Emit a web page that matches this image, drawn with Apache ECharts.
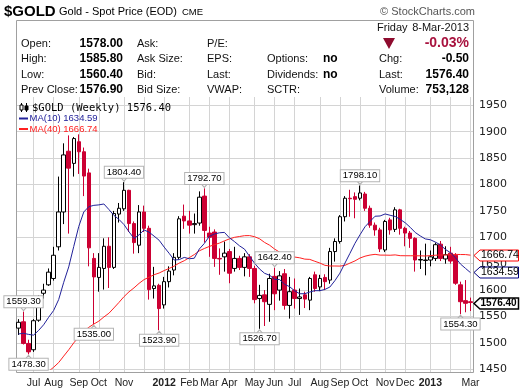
<!DOCTYPE html>
<html><head><meta charset="utf-8">
<script src="https://cdn.jsdelivr.net/npm/echarts@6/dist/echarts.min.js"></script>
<style>html,body{margin:0;padding:0;background:#fff}#c{width:520px;height:391px}</style>
</head><body><div id="c"></div>
<script>
// ---- weekly OHLC of $GOLD, weeks ending Fri 2011-06-17 .. 2013-03-08 ----
const opens = [1528,1540,1499,1487,1543,1594,1610,1622,1682,1748, 1863,1840,1881,1862,1822,1660,1624,1641,1683,1643,
  1744,1754,1789,1726,1685,1748,1717,1603,1609,1572, 1616,1638,1662,1740,1731,1724,1727,1778,1708,1710,
  1660,1663,1673,1641,1660,1643,1663,1641,1584,1591, 1573,1626,1600,1631,1571,1600,1584,1591,1581,1629,
  1606,1624,1619,1673,1692,1739,1774,1777,1774,1782, 1755,1723,1714,1676,1733,1715,1752,1717,1708,1698,
  1657,1656,1657,1660,1687,1659,1670,1666,1610,1580, 1578];
const highs = [1545,1559.3,1506,1545,1590,1612,1641,1682,1815,1878, 1893,1890,1895,1870,1830,1670,1670,1698,1700,1750,
  1765,1804.4,1790,1730,1761,1760,1722,1644,1612,1625, 1645,1670,1740,1762,1750,1745,1787,1792.7,1720,1715,
  1679,1692,1678,1682,1665,1670,1668,1646,1610,1600, 1631,1642.4,1636,1640,1625,1622,1603,1597,1625,1635,
  1629,1630,1680,1698,1742,1778,1790,1785,1798.1,1786, 1760,1728,1718,1733,1737,1757,1754,1720,1712,1700,
  1675,1688,1675,1690,1693,1683,1682,1670,1616,1619, 1585.8];
const lows = [1515,1497,1478.3,1483,1540,1584,1608,1618,1675,1725, 1707,1815,1820,1778,1645,1535,1597,1601,1604,1640,
  1728,1750,1710,1669,1670,1710,1582,1584,1523.9,1565, 1605,1628,1658,1716,1707,1707,1722,1690,1663,1644,
  1629,1635,1613,1635,1638,1626,1625,1575,1526.7,1532, 1540,1562,1580,1563,1546,1565,1553,1566,1562,1597,
  1598,1600,1612,1654,1688,1730,1739,1736,1770,1750, 1718,1703,1672,1672,1705,1710,1705,1683,1680,1635,
  1640,1628,1645,1655,1655,1650,1650,1610,1554.3,1558, 1560.4];
const closes = [1539,1499,1483,1542,1580,1600,1634,1666,1748,1856, 1831,1887,1862,1816,1680,1625,1643,1683,1643,1745,
  1755,1789,1726,1690,1748,1717,1601,1608,1565,1616, 1636,1662,1735,1731,1723,1726,1776,1713,1700,1660,
  1659,1670,1632,1660,1643,1663,1641,1582,1590,1578, 1622,1593,1627,1571,1597,1584,1587,1583,1622,1603,
  1622,1616,1673,1692,1739,1774,1773,1772,1784,1755, 1723,1714,1678,1730,1714,1752,1717,1708,1698,1657,
  1658,1657,1663,1686,1660,1667,1655,1613,1578,1575, 1576.4];
// weekly closes before the first visible week (warm-up for the moving averages)
const priorCloses = [1275,1296,1318,1345,1370,1326,1358,1394,1367,1353, 1364,1413,1385,1378,1380,1421,1369,1361,1342,1341,
  1349,1361,1388,1409,1431,1420,1418,1437,1429,1474, 1486,1504,1556,1491,1493,1492,1536,1542,1530];

// x-axis month ticks (week categories) and their labels ('' = grid line only)
const monthTicks = ['2011-07-08','2011-08-05','2011-09-09','2011-10-07','2011-11-11','2011-12-09','2012-01-06',
  '2012-02-10','2012-03-09','2012-04-06','2012-05-11','2012-06-08','2012-07-06','2012-08-10','2012-09-07',
  '2012-10-05','2012-11-09','2012-12-07','2013-01-11','2013-02-08','2013-03-08'];
const monthTickLabels = ['Jul','Aug','Sep','Oct','Nov','','2012','Feb','Mar','Apr','May','Jun','Jul','Aug','Sep',
  'Oct','Nov','Dec','2013','','Mar'];

// price annotations
const annotWeek = [1, 2, 15, 21, 28, 37, 48, 51, 68, 88];
const annotValue = [1559.30, 1478.30, 1535.00, 1804.40, 1523.90, 1792.70, 1526.70, 1642.40, 1798.10, 1554.30];
const annotSide = ['high','low','low','high','low','high','low','high','high','low'];

// last values shown in legend / right tags
const lastClose = 1576.40;
const lastMA10 = 1634.59;
const lastMA40 = 1666.74;

// quote header
const hdrCol1Labels = ['Open:','High:','Low:','Prev Close:'];
const hdrCol1Values = ['1578.00','1585.80','1560.40','1576.90'];
const hdrCol2Labels = ['Ask:','Ask Size:','Bid:','Bid Size:'];
const hdrCol3Labels = ['P/E:','EPS:','Last:','VWAP:'];
const hdrCol4Labels = ['','Options:','Dividends:','SCTR:'];
const hdrCol4Values = ['','no','no',''];
const hdrCol5Labels = ['','Chg:','Last:','Volume:'];
const hdrCol5Values = ['','-0.50','1576.40','753,128'];
const hdrDay = 'Friday', hdrDate = '8-Mar-2013', hdrPct = '-0.03%';

// ---- derived ----
const weeks = [];
for (let i = 0; i < closes.length; i++) {
  weeks.push(new Date(Date.UTC(2011, 5, 17) + i * 7 * 86400000).toISOString().slice(0, 10));
}
const allCloses = priorCloses.concat(closes);
function movingAvg(n) {
  return closes.map((c, i) => {
    const j = i + priorCloses.length;
    let s = 0;
    for (let k = j - n + 1; k <= j; k++) s += allCloses[k];
    return +(s / n).toFixed(2);
  });
}
const ma10 = movingAvg(10);
const ma40 = movingAvg(40);
const ohlc = weeks.map((w, i) => [opens[i], closes[i], lows[i], highs[i]]);
const tickIdx = monthTicks.map(d => weeks.indexOf(d));
const tickSet = new Set(tickIdx);
const labelMap = {};
tickIdx.forEach((ix, k) => { if (monthTickLabels[k]) labelMap[ix] = monthTickLabels[k]; });

const RED = '#cc0033';
const SANS = '"Liberation Sans", Arial, sans-serif';

const markData = annotWeek.map((w, k) => {
  const hi = annotSide[k] === 'high';
  return {
    coord: [weeks[w], annotValue[k]],
    value: annotValue[k].toFixed(2),
    symbol: hi ? 'path://M0,0 L8,0 L4,5 Z' : 'path://M4,0 L8,5 L0,5 Z',
    symbolSize: [7, 4],
    symbolOffset: [0, hi ? -3 : 3],
    itemStyle: { color: '#fff', borderColor: '#b0b0b0', borderWidth: 1 },
    label: {
      show: true, position: hi ? 'top' : 'bottom', distance: -1,
      formatter: annotValue[k].toFixed(2),
      backgroundColor: '#fff', borderColor: '#b4b4b4', borderWidth: 1,
      padding: [1, 2, 1, 2], lineHeight: 9,
      color: '#000', fontSize: 9.5, fontFamily: SANS
    }
  };
});

const chart = echarts.init(document.getElementById('c'), null, { renderer: 'canvas' });
const option = {
  animation: false,
  backgroundColor: '#fff',
  textStyle: { fontFamily: SANS },
  grid: [
    { left: 16, right: 47, top: 105.3, bottom: 21.7, show: false },
    { left: 18.5, right: 49.5, top: 97, bottom: 18, show: false }
  ],
  xAxis: [
    { type: 'category', gridIndex: 0, data: weeks, boundaryGap: true,
      axisLine: { show: false }, axisTick: { show: false }, axisLabel: { show: false }, splitLine: { show: false } },
    { type: 'category', gridIndex: 1, data: weeks, boundaryGap: false,
      axisLine: { show: false }, axisTick: { show: false },
      axisLabel: {
        interval: (i) => labelMap[i] !== undefined,
        formatter: (v, i) => /^\d{4}$/.test(labelMap[i]) ? '{b|' + labelMap[i] + '}' : labelMap[i],
        margin: 5, color: '#222', fontSize: 10.5, fontFamily: SANS,
        rich: { b: { fontWeight: 'bold', fontSize: 10.5, fontFamily: SANS, color: '#222' } }
      },
      splitLine: { show: true, interval: (i) => tickSet.has(i), lineStyle: { color: '#d4d4d4', width: 1 } } }
  ],
  yAxis: [
    { type: 'value', gridIndex: 0, position: 'right', min: 1450, max: 1950, interval: 50,
      axisLine: { show: false }, axisTick: { show: false },
      axisLabel: { margin: 6, color: '#222', fontSize: 11, fontFamily: '"DejaVu Sans", sans-serif',
                   formatter: (v) => String(v) },
      splitLine: { show: true, lineStyle: { color: '#d4d4d4', width: 1 } } },
    { type: 'value', gridIndex: 1, show: false, min: 0, max: 1 }
  ],
  series: [
    { type: 'candlestick', name: '$GOLD', xAxisIndex: 0, yAxisIndex: 0, data: ohlc, barWidth: 4,
      itemStyle: { color: '#ffffff', color0: RED, borderColor: '#000000', borderColor0: RED, borderWidth: 1,
                   borderColorDoji: '#000000' },
      markPoint: { data: markData, z: 20 } },
    { type: 'line', name: 'MA(40)', xAxisIndex: 0, yAxisIndex: 0, data: ma40, symbol: 'none',
      lineStyle: { color: '#ff2020', width: 1 }, z: 4 },
    { type: 'line', name: 'MA(10)', xAxisIndex: 0, yAxisIndex: 0, data: ma10, symbol: 'none',
      lineStyle: { color: '#22229a', width: 1 }, z: 5 }
  ]
};
chart.setOption(option);

function txt(x, y, s, extra) {
  return { type: 'text', x: x, y: y, z: 50, silent: true,
    style: Object.assign({ text: s, fill: '#111', font: '11px ' + SANS, verticalAlign: 'middle', align: 'left' }, extra || {}) };
}
const g = [];
// frame around header + plot
g.push({ type: 'rect', z: 1, silent: true, shape: { x: 16.5, y: 20.5, width: 457, height: 352 },
  style: { fill: null, stroke: '#a0a0a0', lineWidth: 1 } });
// title
g.push(txt(4, 11.5, '$GOLD', { font: 'bold 15px ' + SANS, fill: '#000' }));
g.push(txt(59, 12, 'Gold - Spot Price (EOD)', { font: '11px ' + SANS, fill: '#000' }));
g.push(txt(182, 12, 'CME', { font: '9.5px ' + SANS, fill: '#000' }));
g.push(txt(475, 11.5, '\u00A9 StockCharts.com', { font: '11px ' + SANS, fill: '#555', align: 'right' }));
// header grid
const rowY = [43.5, 59, 74.5, 90];
rowY.forEach((y, r) => {
  g.push(txt(21, y, hdrCol1Labels[r]));
  g.push(txt(123, y, hdrCol1Values[r], { font: 'bold 12px ' + SANS, align: 'right', fill: '#000' }));
  g.push(txt(137, y, hdrCol2Labels[r]));
  g.push(txt(207, y, hdrCol3Labels[r]));
  if (hdrCol4Labels[r]) g.push(txt(267, y, hdrCol4Labels[r]));
  if (hdrCol4Values[r]) g.push(txt(323, y, hdrCol4Values[r], { font: 'bold 12px ' + SANS, fill: '#000' }));
  if (hdrCol5Labels[r]) g.push(txt(379, y, hdrCol5Labels[r]));
  if (hdrCol5Values[r]) g.push(txt(469, y, hdrCol5Values[r], { font: 'bold 12px ' + SANS, align: 'right', fill: '#000' }));
});
g.push(txt(377, 28, hdrDay));
g.push(txt(469, 28, hdrDate, { align: 'right' }));
g.push({ type: 'polygon', z: 50, silent: true, shape: { points: [[383, 38], [395, 38], [389, 49]] }, style: { fill: '#8e0b2e' } });
g.push(txt(469, 43.5, hdrPct, { font: 'bold 14px ' + SANS, align: 'right', fill: '#a8123e' }));
// in-chart legend
g.push({ type: 'group', z: 50, silent: true, children: [
  { type: 'line', shape: { x1: 21.5, y1: 103, x2: 21.5, y2: 112 }, style: { stroke: '#000', lineWidth: 1 } },
  { type: 'rect', shape: { x: 20, y: 105, width: 3, height: 5 }, style: { fill: '#fff', stroke: '#000', lineWidth: 1 } },
  { type: 'line', shape: { x1: 26.5, y1: 103, x2: 26.5, y2: 112 }, style: { stroke: '#000', lineWidth: 1 } },
  { type: 'rect', shape: { x: 25, y: 106, width: 3, height: 4 }, style: { fill: '#000', stroke: '#000', lineWidth: 1 } }
] });
g.push(txt(32, 108, '$GOLD (Weekly) ' + lastClose.toFixed(2), { font: '10.5px "DejaVu Sans Mono", monospace', fill: '#000' }));
g.push({ type: 'line', z: 50, silent: true, shape: { x1: 19, y1: 118.5, x2: 28, y2: 118.5 }, style: { stroke: '#22229a', lineWidth: 2 } });
g.push(txt(29.5, 118.5, 'MA(10) ' + lastMA10.toFixed(2), { font: '9.5px ' + SANS, fill: '#22229a' }));
g.push({ type: 'line', z: 50, silent: true, shape: { x1: 19, y1: 129, x2: 28, y2: 129 }, style: { stroke: '#ff2020', lineWidth: 2 } });
g.push(txt(29.5, 129, 'MA(40) ' + lastMA40.toFixed(2), { font: '9.5px ' + SANS, fill: '#ff2020' }));
// right-edge value tags positioned through the y axis scale
[[lastMA40, '#ff0000', false], [lastMA10, '#000080', false], [lastClose, '#000000', true]].forEach(([v, col, bold]) => {
  const y = Math.round(chart.convertToPixel({ yAxisIndex: 0 }, v)) + 0.5;
  g.push({ type: 'polygon', z: 60, silent: true,
    shape: { points: [[474, y], [480, y - 5.5], [518.5, y - 5.5], [518.5, y + 5.5], [480, y + 5.5]] },
    style: { fill: '#fff', stroke: col, lineWidth: bold ? 1.5 : 1 } });
  g.push({ type: 'text', z: 61, silent: true, x: bold ? 480.5 : 481, y: y,
    style: { text: v.toFixed(2), fill: '#000', font: (bold ? 'bold 10px ' : '10.5px ') + SANS, verticalAlign: 'middle', align: 'left' } });
});
chart.setOption({ graphic: g });
</script>
</body></html>
